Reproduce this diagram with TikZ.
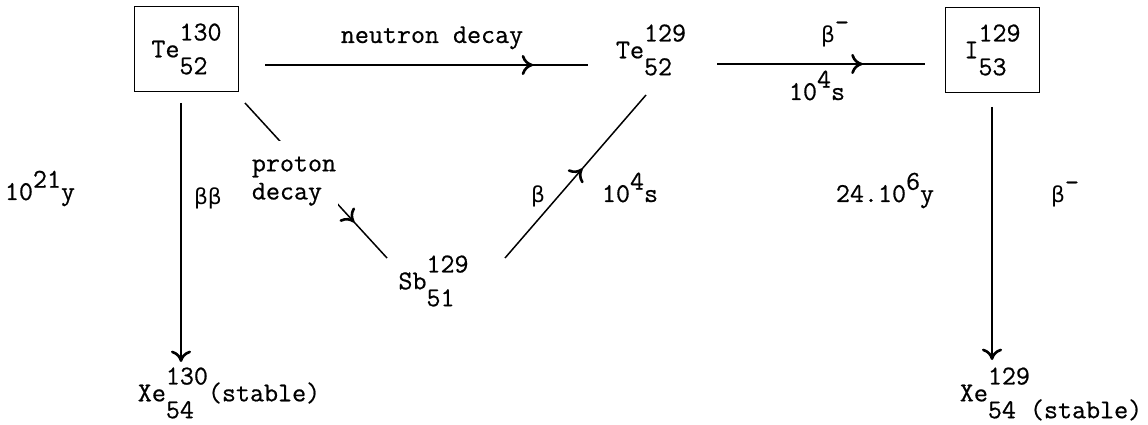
\documentclass[tikz,border=0pt]{standalone}
\usepackage{fontspec}
\setmonofont{Latin Modern Mono}[FakeBold=0.6]
\usetikzlibrary{arrows.meta,decorations.markings}
\newfontfamily\greekfont{DejaVu Sans}[Scale=0.8]
% nuclide with full-size mass number above and charge below
\newcommand\nucl[3]{#1\raisebox{.62em}{\vtop{\baselineskip=1.24em\lineskiplimit=-\maxdimen\halign{##\hfil\cr#2\cr#3\cr}}}}
\newcommand\pw[2]{#1\raisebox{.45em}{#2}}
\newcommand\bt{{\greekfont β}}
\tikzset{
  every node/.style={font=\ttfamily\fontsize{15.5}{18}\selectfont},
  boxed/.style={draw, line width=0.7pt, minimum height=48.8pt},
  decay/.style={line width=0.85pt},
  tipat/.style={decay, postaction={decorate},
    decoration={markings, mark=at position #1 with {\arrow{>}}}},
  tipend/.style={decay, ->},
}
\begin{document}
\begin{tikzpicture}[x=0.02cm, y=-0.02cm,
    >={Computer Modern Rightarrow[length=6.5pt,width=11.5pt,line width=1.5pt]}]
    \useasboundingbox (0,0) rectangle (1148,425);
    % nuclides
    \node[boxed, minimum width=59.5pt] (te130) at (186.5,49) {\nucl{Te}{130}{52}};
    \node (te129) at (651,50) {\nucl{Te}{129}{52}};
    \node[boxed, minimum width=53.9pt] (i129) at (992.5,50) {\nucl{I}{129}{53}};
    \node (sb129) at (433.5,281) {\nucl{Sb}{129}{51}};
    \node (xe130) at (229,393) {\nucl{Xe}{130}{54}(stable)};
    \node (xe129) at (1051,394) {\nucl{Xe}{129}{54 (stable)}};
    % decays
    \draw[tipat=0.83] ([shift={(78.5,16)}]te130.center) -- ([shift={(-63,15)}]te129.center);
    \draw[tipat=0.70] ([shift={(66,14)}]te129.center) -- ([shift={(-67.5,14)}]i129.center);
    \draw[tipend] ([shift={(-5.5,54)}]te130.center) -- ([shift={(-48,-31)}]xe130.center);
    \draw[tipend] ([shift={(-0.5,57)}]i129.center) -- ([shift={(-59,-34)}]xe129.center);
    \draw[tipat=0.77] ([shift={(58.5,54)}]te130.center) -- ([shift={(-46.5,-23)}]sb129.center);
    \draw[tipat=0.55] ([shift={(71.5,-23)}]sb129.center) -- ([shift={(-5,45)}]te129.center);
    % labels
    \node[anchor=base] (neutron) at (432,43) {neutron decay};
    \node[fill=white, inner xsep=1pt, inner ysep=8.5pt, align=left,
      font=\ttfamily\fontsize{15.5}{16}\selectfont] (proton) at (294,181) {proton\\decay};
    \node[anchor=base] (tbb) at (208,205) {\bt\bt};
    \node[anchor=base] (tte130) at (40,200) {\pw{10}{21}y};
    \node[anchor=base] (bsb) at (538,203) {\bt};
    \node[anchor=base] (tsb) at (630,202) {\pw{10}{4}s};
    \node[anchor=base] (bte129) at (835,43) {\bt\raisebox{.45em}{-}};
    \node[anchor=base] (tte129) at (817,100) {\pw{10}{4}s};
    \node[anchor=base] (ti129) at (885,202) {\pw{24.10}{6}y};
    \node[anchor=base] (bi129) at (1065,203) {\bt\raisebox{.45em}{-}};
\end{tikzpicture}
\end{document}
